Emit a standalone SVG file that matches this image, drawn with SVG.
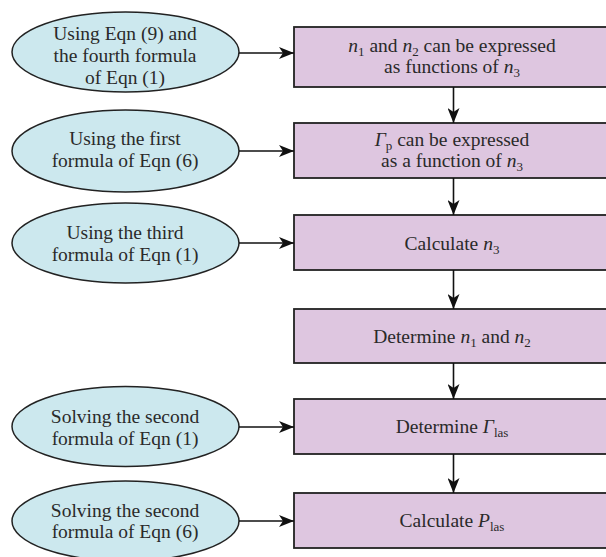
<svg xmlns="http://www.w3.org/2000/svg" width="606" height="557" viewBox="0 0 606 557">
<defs>
<marker id="ah" markerUnits="userSpaceOnUse" markerWidth="16" markerHeight="12" refX="15" refY="6" orient="auto">
<path d="M0,0 L15,6 L0,12 L4,6 z" fill="#111"/>
</marker>
<style>
text{font-family:"Liberation Serif","Times New Roman",serif;font-size:19.5px;fill:#2a2a2a;text-anchor:middle}
.i{font-style:italic}
.s{font-size:13px}
ellipse{fill:#cce8ee;stroke:#222;stroke-width:1.5}
.box{fill:#dec6e0;stroke:#222;stroke-width:1.8}
#connectors line{stroke:#111;stroke-width:1.6;marker-end:url(#ah)}
</style>
</defs>
<rect x="0" y="0" width="606" height="557" fill="#ffffff"/>
<g id="e1"><ellipse cx="125.5" cy="52" rx="113.5" ry="40"/>
<text x="125" y="40">Using Eqn (9) and</text><text x="125" y="62">the fourth formula</text><text x="125" y="84">of Eqn (1)</text></g>
<g id="e2"><ellipse cx="125.5" cy="151" rx="113.5" ry="41"/>
<text x="125" y="145">Using the first</text><text x="125" y="167">formula of Eqn (6)</text></g>
<g id="e3"><ellipse cx="125.5" cy="243" rx="113.5" ry="40"/>
<text x="125" y="239">Using the third</text><text x="125" y="261">formula of Eqn (1)</text></g>
<g id="e5"><ellipse cx="125.5" cy="426.5" rx="113.5" ry="40"/>
<text x="125" y="423">Solving the second</text><text x="125" y="445">formula of Eqn (1)</text></g>
<g id="e6"><ellipse cx="125.5" cy="521" rx="113.5" ry="40"/>
<text x="125" y="517">Solving the second</text><text x="125" y="538">formula of Eqn (6)</text></g>

<g id="b1"><rect class="box" x="294" y="27" width="330" height="60"/>
<text x="452" y="52"><tspan class="i">n</tspan><tspan class="s" dy="4">1</tspan><tspan dy="-4"> and </tspan><tspan class="i">n</tspan><tspan class="s" dy="4">2</tspan><tspan dy="-4"> can be expressed</tspan></text>
<text x="452" y="73">as functions of <tspan class="i">n</tspan><tspan class="s" dy="4">3</tspan></text></g>
<g id="b2"><rect class="box" x="294" y="123" width="330" height="55"/>
<text x="452" y="146"><tspan class="i">Γ</tspan><tspan class="s" dy="4">p</tspan><tspan dy="-4"> can be expressed</tspan></text>
<text x="452" y="167">as a function of <tspan class="i">n</tspan><tspan class="s" dy="4">3</tspan></text></g>
<g id="b3"><rect class="box" x="294" y="215" width="330" height="55"/>
<text x="452" y="250">Calculate <tspan class="i">n</tspan><tspan class="s" dy="4">3</tspan></text></g>
<g id="b4"><rect class="box" x="294" y="309" width="330" height="54"/>
<text x="452" y="343">Determine <tspan class="i">n</tspan><tspan class="s" dy="4">1</tspan><tspan dy="-4"> and </tspan><tspan class="i">n</tspan><tspan class="s" dy="4">2</tspan></text></g>
<g id="b5"><rect class="box" x="294" y="399" width="330" height="55"/>
<text x="452" y="433">Determine <tspan class="i">Γ</tspan><tspan class="s" dy="4">las</tspan></text></g>
<g id="b6"><rect class="box" x="294" y="493" width="330" height="55"/>
<text x="452" y="527">Calculate <tspan class="i">P</tspan><tspan class="s" dy="4">las</tspan></text></g>

<g id="connectors">
<line x1="239" y1="53" x2="294" y2="53"/>
<line x1="239" y1="151" x2="294" y2="151"/>
<line x1="239" y1="243" x2="294" y2="243"/>
<line x1="239" y1="427" x2="294" y2="427"/>
<line x1="239" y1="521" x2="294" y2="521"/>
<line x1="453.5" y1="87" x2="453.5" y2="123"/>
<line x1="453.5" y1="178" x2="453.5" y2="215"/>
<line x1="453.5" y1="270" x2="453.5" y2="309"/>
<line x1="453.5" y1="363" x2="453.5" y2="399"/>
<line x1="453.5" y1="454" x2="453.5" y2="493"/>
</g>
</svg>
